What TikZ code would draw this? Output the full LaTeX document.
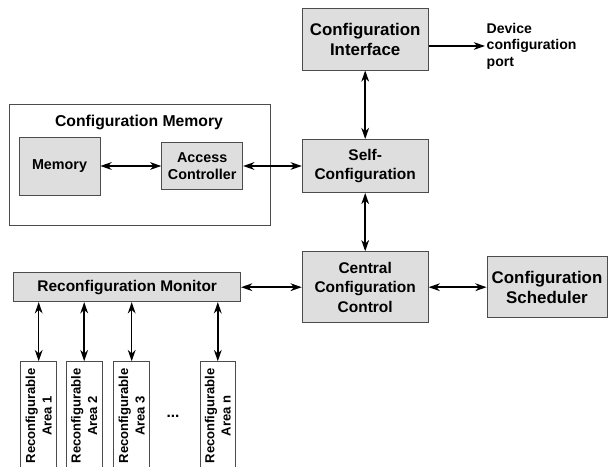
\documentclass[tikz,border=0pt]{standalone}
\usepackage{fontspec}
\setmainfont{Liberation Sans}
\usepackage{tikz}
\usetikzlibrary{shapes,arrows,arrows.meta,positioning}
\tikzstyle{line} = [draw, line width=1.1pt, {Stealth[length=8pt,width=5.5pt,inset=2.5pt]}-{Stealth[length=8pt,width=5.5pt,inset=2.5pt]}]
\tikzstyle{block} = [draw=black!70, fill=black!13, line width=0.6pt, align=center, inner sep=0pt, font=\bfseries\fontsize{11}{13.9}\selectfont]
\tikzstyle{bigblock} = [block, font=\bfseries\fontsize{12}{14.2}\selectfont]
\tikzstyle{memblock} = [block, font=\bfseries\fontsize{10.2}{11.9}\selectfont]
\tikzstyle{area} = [draw=black!70, fill=white, line width=0.6pt, rotate=90, minimum width=2.71cm, minimum height=0.89cm, inner sep=0pt, align=center, font=\bfseries\fontsize{9.3}{11.6}\selectfont]

\begin{document}
\begin{tikzpicture}
		%\draw[help lines] (0,0) grid (15,-11);
		\useasboundingbox (0,0) rectangle (15.275,-11.675);
		\clip (0,0) rectangle (15.275,-11.675);
		\node[bigblock, minimum width=3.15cm, minimum height=1.55cm] (ci) at (9.13,-0.975) {Configuration\\Interface};
		\node[block, minimum width=3.15cm, minimum height=1.325cm] (sc) at (9.13,-4.15) {Self-\\Configuration};
		\node[block, minimum width=3.15cm, minimum height=1.775cm] (ccc) at (9.13,-7.18) {Central\\Configuration\\Control};
		\node[bigblock, minimum width=3cm, minimum height=1.525cm] (cs) at (13.675,-7.18) {Configuration\\Scheduler};
		\node[anchor=west, align=left, inner sep=1pt, font=\bfseries\fontsize{10}{11.7}\selectfont] (dcp) at (12.125,-1.15) {Device\\configuration\\port};
		% configuration memory
		\node[draw=black!70, line width=0.6pt, minimum width=6.52cm, minimum height=3.02cm] (cm) at (3.49,-4.116) {};
		\node[font=\bfseries\fontsize{11.2}{13}\selectfont] (cmt) at (3.475,-3.07) {Configuration Memory};
		\node[memblock, minimum width=2.025cm, minimum height=1.45cm] (mem) at (1.4875,-4.15) {Memory};
		\node[memblock, minimum width=2.025cm, minimum height=1.19cm] (ac) at (5.055,-4.15) {Access\\Controller};
		% monitor and areas
		\node[block, minimum width=5.67cm, minimum height=0.725cm] (rm) at (3.18,-7.18) {Reconfiguration Monitor};
		\node[area] (ra1) at (0.9675,-10.396) {Reconfigurable\\Area 1};
		\node[area] (ra2) at (2.105,-10.396) {Reconfigurable\\Area 2};
		\node[area] (ra3) at (3.2925,-10.396) {Reconfigurable\\Area 3};
		\node[area] (ran) at (5.445,-10.396) {Reconfigurable\\Area n};
		\node[font=\bfseries\fontsize{11}{13}\selectfont] (dots) at (4.325,-10.4) {...};
		\draw[line] (ci) -- (sc);
		\draw[line] (sc) -- (ccc);
		\draw[line] (mem) -- (ac);
		\draw[line] (ac) -- (sc);
		\draw[line] (rm) -- (ccc);
		\draw[line] (ccc) -- (cs);
		\draw[line, -{Stealth[length=8pt,width=5.5pt,inset=2.5pt]}] (ci.east |- dcp.west) -- (dcp.west);
		\draw[line] (rm.south -| ra1.east) -- (ra1.east);
		\draw[line] (rm.south -| ra2.east) -- (ra2.east);
		\draw[line] (rm.south -| ra3.east) -- (ra3.east);
		\draw[line] (rm.south -| ran.east) -- (ran.east);
\end{tikzpicture}
\end{document}
